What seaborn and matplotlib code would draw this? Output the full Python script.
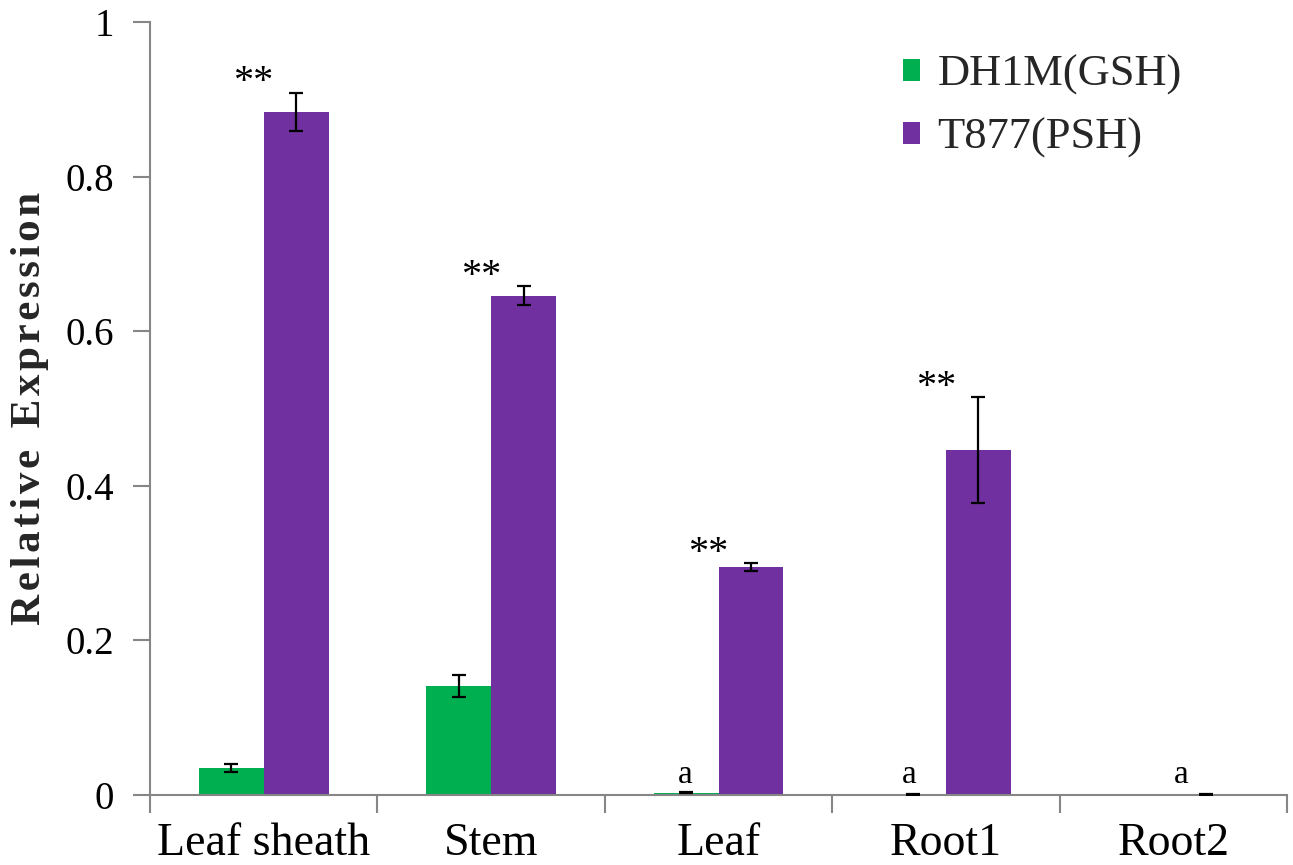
import matplotlib
matplotlib.use("Agg")
import matplotlib.pyplot as plt
from matplotlib.patches import Patch
import seaborn as sns
import pandas as pd
import numpy as np

# Expression data per tissue and line
tissues = ["Leaf sheath", "Stem", "Leaf", "Root1", "Root2"]
lines = ["DH1M(GSH)", "T877(PSH)"]
dh1m_mean = [0.035, 0.141, 0.003, 0.001, 0.0]
dh1m_err = [0.005, 0.014, 0.0006, 0.0004, 0.0]
t877_mean = [0.884, 0.646, 0.2945, 0.446, 0.0008]
t877_err = [0.0244, 0.0119, 0.005, 0.0686, 0.0003]
stars = ["**", "**", "**", "**", ""]
letters = ["", "", "a", "a", "a"]

colors = {"DH1M(GSH)": "#00B050", "T877(PSH)": "#7030A0"}
axis_gray = "#868686"

df = pd.DataFrame({
    "Tissue": tissues * 2,
    "Line": [lines[0]] * len(tissues) + [lines[1]] * len(tissues),
    "Expression": dh1m_mean + t877_mean,
})

sns.set_theme(style="white")
plt.rcParams["font.family"] = ["Liberation Serif", "DejaVu Serif"]

fig = plt.figure(figsize=(12.93, 8.65), dpi=100)
ax = fig.add_axes([150 / 1293, 1 - 795 / 865, (1287 - 150) / 1293, (795 - 22) / 865])

sns.barplot(data=df, x="Tissue", y="Expression", hue="Line", order=tissues,
            hue_order=lines, palette=colors, width=0.57, errorbar=None,
            saturation=1, linewidth=0, ax=ax, legend=False)

# error bars on each bar
for cont, errs in zip(ax.containers, [dh1m_err, t877_err]):
    xs = [p.get_x() + p.get_width() / 2 for p in cont.patches]
    ys = [p.get_height() for p in cont.patches]
    for x, y, e in zip(xs, ys, errs):
        if e > 0:
            ax.errorbar(x, y, yerr=e, fmt="none", ecolor="black",
                        elinewidth=1.6, capsize=5, capthick=1.6, zorder=5)

# significance marks
for i, (s, e, m) in enumerate(zip(stars, t877_err, t877_mean)):
    if s:
        ax.text(i - 0.045, m + e + 0.013, s, ha="center", va="center",
                fontsize=29, color="black")

letter_x = [None, None, -0.148, -0.16, 0.037]
for i, (l, dx) in enumerate(zip(letters, letter_x)):
    if l:
        ax.text(i + dx, 0.007, l, ha="center", va="bottom", fontsize=24,
                color="black")

ax.set_xlim(-0.5, len(tissues) - 0.5)
ax.set_ylim(0, 1)
ax.set_yticks([0, 0.2, 0.4, 0.6, 0.8, 1.0])
ax.set_yticklabels(["0", "0.2", "0.4", "0.6", "0.8", "1"])

# category boundary ticks on the x axis
ax.set_xticks(np.arange(-0.5, len(tissues)), minor=True)
ax.tick_params(axis="x", which="major", length=0, pad=20, labelsize=33,
               colors="black")
ax.tick_params(axis="x", which="minor", length=13, width=1.5, color=axis_gray,
               direction="out", bottom=True)
ax.tick_params(axis="y", which="major", length=12, width=1.5, color=axis_gray,
               direction="out", left=True, labelsize=28, labelcolor="black",
               pad=14)

for side in ["top", "right"]:
    ax.spines[side].set_visible(False)
for side in ["left", "bottom"]:
    ax.spines[side].set_color(axis_gray)
    ax.spines[side].set_linewidth(1.5)

ax.set_xlabel("")
ax.set_ylabel("R\u200ae\u200al\u200aa\u200at\u200ai\u200av\u200ae  E\u200ax\u200ap\u200ar\u200ae\u200as\u200as\u200ai\u200ao\u200an",
              fontsize=31, fontweight="bold", labelpad=12)

handles = [Patch(facecolor=colors[l], edgecolor="none") for l in lines]
leg = ax.legend(handles, lines, loc="upper left",
                bbox_to_anchor=(903 / 1293, 1 - 55 / 865),
                bbox_transform=fig.transFigure, frameon=False,
                fontsize=32, handlelength=0.38, handleheight=0.38,
                handletextpad=0.4, labelspacing=0.5, borderpad=0,
                borderaxespad=0)

fig.savefig("out.png", dpi=100)
